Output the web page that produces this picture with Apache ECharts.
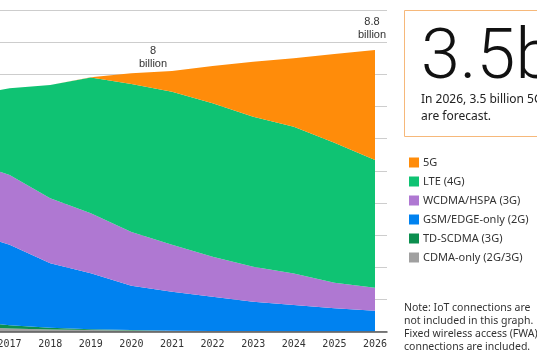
<!DOCTYPE html>
<html><head><meta charset="utf-8">
<script src="https://cdn.jsdelivr.net/npm/echarts@6/dist/echarts.min.js"></script>
<style>html,body{margin:0;padding:0;background:#fff;overflow:hidden}#c{width:537px;height:360px}</style>
</head><body><div id="c"></div><script>
// Mobile subscriptions by technology (billions)
const years = ['2016','2017','2018','2019','2020','2021','2022','2023','2024','2025','2026'];
const cdmaOnly = [0.15, 0.10, 0.07, 0.05, 0.04, 0.03, 0.02, 0.02, 0.01, 0.01, 0.01];
const tdScdma  = [0.20, 0.10, 0.05, 0.03, 0.01, 0.00, 0.00, 0.00, 0.00, 0.00, 0.00];
const gsmEdge  = [2.77, 2.50, 2.01, 1.74, 1.38, 1.21, 1.07, 0.91, 0.82, 0.72, 0.64];
const wcdma    = [2.17, 2.17, 2.02, 1.86, 1.67, 1.46, 1.24, 1.09, 0.98, 0.79, 0.72];
const lte      = [2.03, 2.70, 3.52, 4.22, 4.60, 4.76, 4.77, 4.66, 4.56, 4.35, 3.97];
const fiveG    = [0.00, 0.00, 0.00, 0.01, 0.33, 0.64, 1.16, 1.71, 2.13, 2.76, 3.42];
const yTicksMax = 10;

const names = ['CDMA-only (2G/3G)','TD-SCDMA (3G)','GSM/EDGE-only (2G)','WCDMA/HSPA (3G)','LTE (4G)','5G'];
const colors = ['#a0a0a0','#0c8f4f','#0082f0','#af78d2','#0fc373','#ff8c0a'];
const values = [cdmaOnly, tdScdma, gsmEdge, wcdma, lte, fiveG];

const chart = echarts.init(document.getElementById('c'), null, {renderer:'canvas'});
const txtFont = "'Noto Sans', 'Open Sans', sans-serif";
chart.setOption({
  animation: false,
  backgroundColor: '#fff',
  grid: [
    {left: 0, right: 150, top: 10, bottom: 28.3, containLabel: false, outerBoundsMode: 'none'},
    {left: -31, right: 162, top: 10, bottom: 28.3, containLabel: false, outerBoundsMode: 'none'}
  ],
  xAxis: [
    {gridIndex: 0, type: 'value', min: 0, max: 1, z: 10,
     axisLine: {show: true, lineStyle: {color: '#555', width: 1.5}},
     axisTick: {show: false}, axisLabel: {show: false}, splitLine: {show: false}},
    {gridIndex: 1, type: 'category', data: years, boundaryGap: false,
     axisLine: {show: false}, axisTick: {show: false}, splitLine: {show: false},
     axisLabel: {interval: 0, fontFamily: "'DejaVu Sans Mono', monospace", fontSize: 10, color: '#333', margin: 8}}
  ],
  yAxis: [
    {gridIndex: 0, type: 'value', min: 0, max: yTicksMax, interval: 1,
     axisLine: {show: false}, axisTick: {show: false}, axisLabel: {show: false},
     splitLine: {show: true, lineStyle: {color: '#cdcdcd', width: 1}}},
    {gridIndex: 1, type: 'value', min: 0, max: yTicksMax, interval: 1, show: false}
  ],
  legend: {
    orient: 'vertical', left: 404, top: 152, icon: 'rect',
    itemWidth: 10, itemHeight: 10, itemGap: 8,
    data: ['5G','LTE (4G)','WCDMA/HSPA (3G)','GSM/EDGE-only (2G)','TD-SCDMA (3G)','CDMA-only (2G/3G)'],
    textStyle: {fontFamily: txtFont, fontSize: 11, color: '#333', lineHeight: 11, padding: [0,0,0,-1]},
    selectedMode: false
  },
  series: values.map((v, i) => ({
    name: names[i], type: 'line', stack: 'total', xAxisIndex: 1, yAxisIndex: 1,
    data: v, symbol: 'none', showSymbol: false, silent: true,
    lineStyle: {width: 0, color: colors[i]},
    itemStyle: {color: colors[i]},
    areaStyle: {color: colors[i], opacity: 1},
    emphasis: {disabled: true}
  })),
  graphic: [
    {type: 'rect', shape: {x: 404.5, y: 10.5, width: 200, height: 126},
     style: {fill: 'none', stroke: '#f6b87a', lineWidth: 1}},
    {type: 'text', x: 421, y: 60, style: {text: '3.5b', font: "300 70px Roboto, 'Open Sans', sans-serif",
      fill: '#111', verticalAlign: 'middle', align: 'left'}},
    {type: 'text', x: 421, y: 100, style: {text: 'In 2026, 3.5 billion 5G', font: "12px " + txtFont,
      fill: '#222', verticalAlign: 'middle'}},
    {type: 'text', x: 421, y: 117, style: {text: 'are forecast.', font: "12px " + txtFont,
      fill: '#222', verticalAlign: 'middle'}},
    {type: 'text', x: 153, y: 51, style: {text: '8', font: "11px 'Liberation Sans', sans-serif", fill: '#333', align: 'center', verticalAlign: 'middle'}},
    {type: 'text', x: 153, y: 64, style: {text: 'billion', font: "11px 'Liberation Sans', sans-serif", fill: '#333', align: 'center', verticalAlign: 'middle'}},
    {type: 'text', x: 372, y: 22, style: {text: '8.8', font: "11px 'Liberation Sans', sans-serif", fill: '#333', align: 'center', verticalAlign: 'middle'}},
    {type: 'text', x: 372, y: 35, style: {text: 'billion', font: "11px 'Liberation Sans', sans-serif", fill: '#333', align: 'center', verticalAlign: 'middle'}},
    {type: 'text', x: 404, y: 308, style: {text: 'Note: IoT connections are', font: "10.5px " + txtFont, fill: '#333', verticalAlign: 'middle'}},
    {type: 'text', x: 404, y: 321, style: {text: 'not included in this graph.', font: "10.5px " + txtFont, fill: '#333', verticalAlign: 'middle'}},
    {type: 'text', x: 404, y: 334, style: {text: 'Fixed wireless access (FWA)', font: "10.5px " + txtFont, fill: '#333', verticalAlign: 'middle'}},
    {type: 'text', x: 404, y: 347, style: {text: 'connections are included.', font: "10.5px " + txtFont, fill: '#333', verticalAlign: 'middle'}}
  ]
});
</script></body></html>
